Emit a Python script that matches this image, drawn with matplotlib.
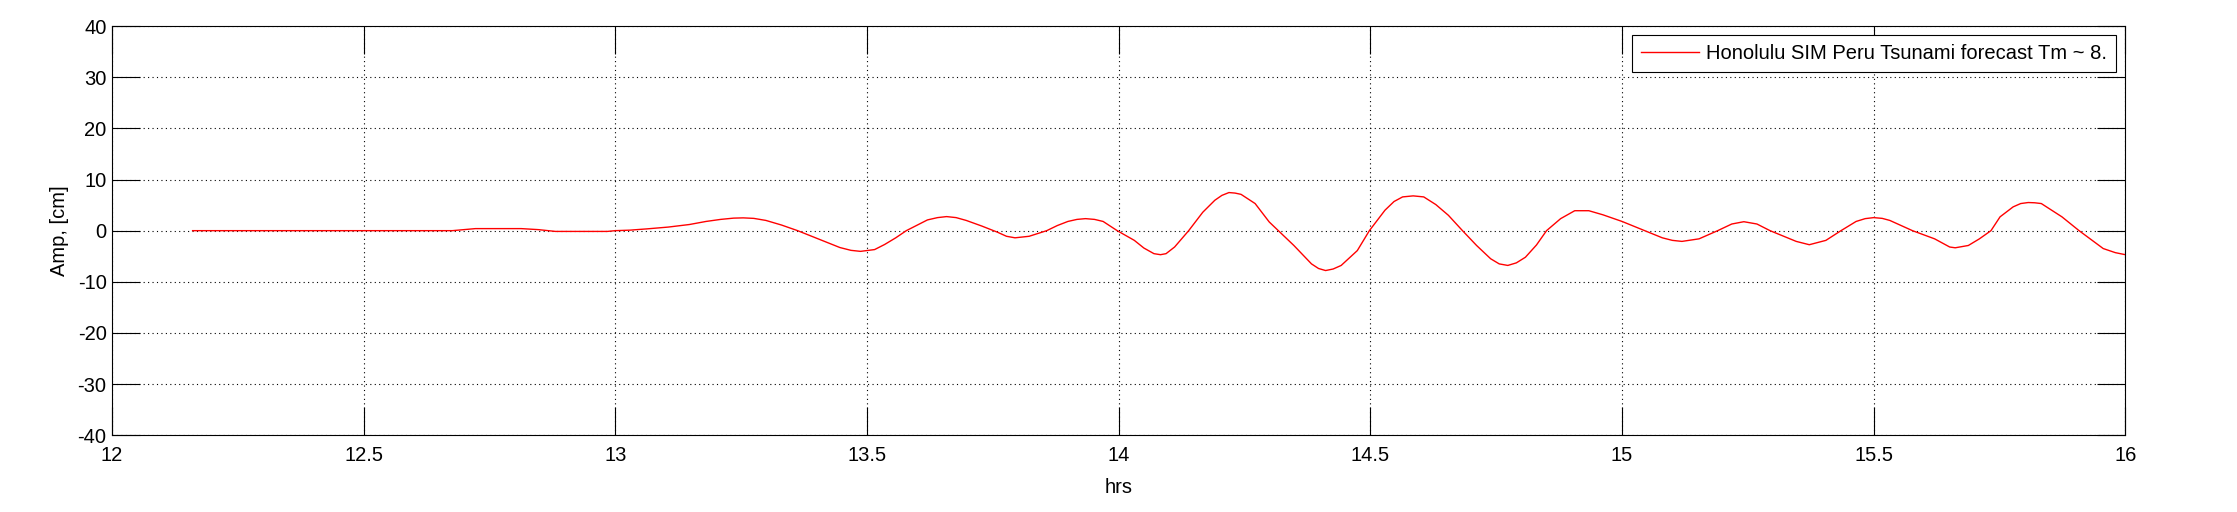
import numpy as np
import matplotlib
matplotlib.use('Agg')
import matplotlib.pyplot as plt

# =============================================================================
# DATA
# =============================================================================
hrs = [12.16, 12.676, 12.70, 12.722, 12.813, 12.847, 12.881, 12.984, 13.0,
       13.029, 13.063, 13.105, 13.147, 13.18, 13.209, 13.235, 13.254, 13.275,
       13.299, 13.33, 13.362, 13.39, 13.418, 13.446, 13.468, 13.487, 13.515,
       13.535, 13.557, 13.578, 13.60, 13.62, 13.64, 13.658, 13.677, 13.697,
       13.728, 13.759, 13.777, 13.794, 13.822, 13.857, 13.878, 13.899, 13.917,
       13.934, 13.952, 13.969, 13.997, 14.031, 14.05, 14.07, 14.083, 14.094,
       14.111, 14.139, 14.167, 14.191, 14.205, 14.219, 14.231, 14.243, 14.271,
       14.299, 14.317, 14.348, 14.383, 14.397, 14.411, 14.426, 14.442, 14.474,
       14.498, 14.529, 14.547, 14.564, 14.585, 14.606, 14.63, 14.655, 14.683,
       14.711, 14.739, 14.756, 14.773, 14.79, 14.808, 14.830, 14.850, 14.878,
       14.906, 14.934, 14.962, 15.0, 15.045, 15.08, 15.10, 15.119, 15.153,
       15.19, 15.218, 15.242, 15.268, 15.294, 15.346, 15.372, 15.405, 15.435,
       15.465, 15.483, 15.5, 15.517, 15.532, 15.577, 15.621, 15.651, 15.662,
       15.688, 15.71, 15.733, 15.751, 15.777, 15.792, 15.807, 15.82, 15.833,
       15.874, 15.908, 15.956, 15.98, 16.0]
amp = [0.0, 0.0, 0.2, 0.4, 0.4, 0.2, -0.15, -0.15, 0.0,
       0.1, 0.35, 0.7, 1.2, 1.8, 2.2, 2.45, 2.5, 2.4,
       2.0, 1.1, 0.0, -1.1, -2.2, -3.3, -3.85, -4.05, -3.7,
       -2.7, -1.4, 0.0, 1.1, 2.1, 2.55, 2.75, 2.55, 2.0,
       0.9, -0.3, -1.1, -1.4, -1.1, 0.0, 1.0, 1.8, 2.2,
       2.35, 2.2, 1.8, 0.0, -1.9, -3.4, -4.5, -4.7, -4.5,
       -3.2, 0.0, 3.6, 5.95, 6.9, 7.45, 7.35, 7.1, 5.3,
       1.7, 0.0, -2.9, -6.5, -7.4, -7.8, -7.5, -6.8, -3.9,
       0.0, 4.0, 5.7, 6.6, 6.8, 6.6, 5.1, 3.0, 0.0,
       -2.9, -5.5, -6.5, -6.8, -6.3, -5.2, -2.8, 0.0, 2.35,
       3.9, 3.9, 3.1, 1.8, 0.0, -1.4, -1.9, -2.1, -1.6,
       0.0, 1.3, 1.75, 1.3, 0.0, -2.1, -2.75, -1.9, 0.0,
       1.8, 2.35, 2.55, 2.4, 2.0, 0.0, -1.6, -3.2, -3.35,
       -2.9, -1.6, 0.0, 2.7, 4.65, 5.3, 5.5, 5.45, 5.3,
       2.7, 0.0, -3.5, -4.3, -4.7]

LEGEND_LABEL = 'Honolulu SIM Peru Tsunami forecast Tm ~ 8.'

# =============================================================================
# STYLE
# =============================================================================
FS = 14.5
plt.rcParams['font.family'] = ['Liberation Sans', 'DejaVu Sans']
plt.rcParams['axes.unicode_minus'] = False

fig = plt.figure(figsize=(22.37, 5.12), dpi=100)
ax = fig.add_axes([0.0501, 0.150, 0.9000, 0.799])

ax.plot(hrs, amp, color='red', lw=1.0, label=LEGEND_LABEL)

ax.set_xlim(12, 16)
ax.set_ylim(-40, 40)
ax.set_xticks(np.arange(12, 16.01, 0.5))
ax.set_xticklabels(['12', '12.5', '13', '13.5', '14', '14.5', '15', '15.5', '16'])
ax.set_yticks(np.arange(-40, 41, 10))

ax.grid(True, color='black', ls=(0, (1, 3)), lw=0.8)
ax.tick_params(direction='in', length=20, width=0.8, labelsize=FS,
               top=True, right=True, pad=4)
ax.tick_params(axis='x', pad=8)
for s in ax.spines.values():
    s.set_linewidth(0.8)

ax.set_xlabel('hrs', fontsize=FS, labelpad=9)
ax.set_ylabel('Amp, [cm]', fontsize=FS, labelpad=6)

leg = ax.legend(loc='upper right', fontsize=FS, fancybox=False,
                framealpha=1, edgecolor='black', borderaxespad=0.45,
                handlelength=2.9, handletextpad=0.35, borderpad=0.45)
leg.get_frame().set_linewidth(0.8)

fig.savefig('out.png', dpi=100)
